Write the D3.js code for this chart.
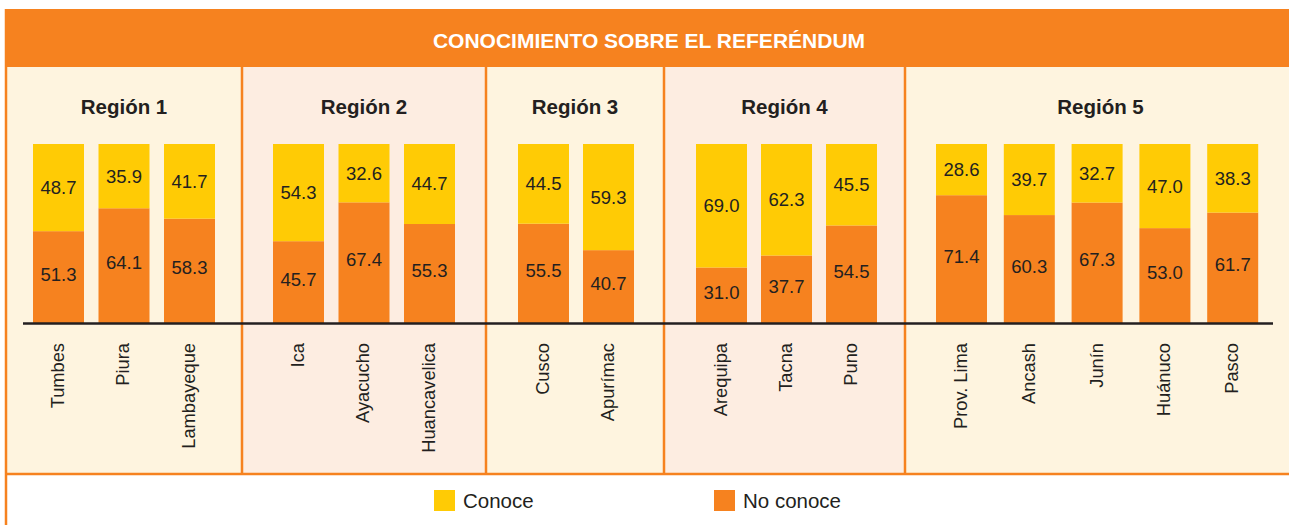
<!DOCTYPE html>
<html>
<head>
<meta charset="utf-8">
<script src="https://cdn.jsdelivr.net/npm/d3@7"></script>
<style>
  body { margin: 0; background: #fff; }
  svg text { font-family: "Liberation Sans", Arial, sans-serif; fill: #231f20; }
</style>
</head>
<body>
<div id="graphic"></div>
<script>
// data
const title = "CONOCIMIENTO SOBRE EL REFERÉNDUM";
const regions = ["Región 1", "Región 2", "Región 3", "Región 4", "Región 5"];
const categories = [
  ["Tumbes", "Piura", "Lambayeque"],
  ["Ica", "Ayacucho", "Huancavelica"],
  ["Cusco", "Apurímac"],
  ["Arequipa", "Tacna", "Puno"],
  ["Prov. Lima", "Ancash", "Junín", "Huánuco", "Pasco"]
];
const conoce = [
  [48.7, 35.9, 41.7],
  [54.3, 32.6, 44.7],
  [44.5, 59.3],
  [69.0, 62.3, 45.5],
  [28.6, 39.7, 32.7, 47.0, 38.3]
];
const noConoce = [
  [51.3, 64.1, 58.3],
  [45.7, 67.4, 55.3],
  [55.5, 40.7],
  [31.0, 37.7, 54.5],
  [71.4, 60.3, 67.3, 53.0, 61.7]
];
const legendLabels = ["Conoce", "No conoce"];

const colours = { conoce: "#ffcb05", noConoce: "#f6821f", line: "#f6821f" };
const panelFill = ["#fef4df", "#fdede1", "#fef4df", "#fdede1", "#fef4df"];

// layout
const width = 1289, height = 525;
const panelEdges = [6, 242, 486, 664, 905, 1296];
const barStart = [33, 273, 518, 696, 936];
const barStep = [65.5, 65.5, 65, 65, 67.8];
const barWidth = 51;
const panelTop = 67, panelBottom = 474;

const svg = d3.select("#graphic").append("svg")
  .attr("width", width).attr("height", height);

const y = d3.scaleLinear().domain([0, 100]).range([323, 144]);

// panels
regions.forEach((r, i) => {
  svg.append("rect")
    .attr("x", panelEdges[i]).attr("y", panelTop)
    .attr("width", panelEdges[i + 1] - panelEdges[i])
    .attr("height", panelBottom - panelTop)
    .attr("fill", panelFill[i]);
});

// title bar
svg.append("rect").attr("x", 5).attr("y", 9)
  .attr("width", 1291).attr("height", panelTop - 9)
  .attr("fill", colours.line);
svg.append("text")
  .attr("x", 649).attr("y", 41).attr("dy", "0.35em")
  .attr("text-anchor", "middle")
  .style("font-size", "21px").style("font-weight", "bold")
  .style("fill", "#fff")
  .text(title);

// panel borders
panelEdges.slice(1, -1).forEach(xp => {
  svg.append("line")
    .attr("x1", xp).attr("x2", xp)
    .attr("y1", panelTop).attr("y2", panelBottom)
    .attr("stroke", colours.line).attr("stroke-width", 2.5);
});
svg.append("line").attr("x1", 6).attr("x2", 6)
  .attr("y1", 9).attr("y2", height)
  .attr("stroke", colours.line).attr("stroke-width", 2.5);
svg.append("line").attr("x1", 5).attr("x2", width)
  .attr("y1", panelBottom).attr("y2", panelBottom)
  .attr("stroke", colours.line).attr("stroke-width", 2.5);

// bars per region
regions.forEach((r, i) => {
  const cats = categories[i];
  const x = d3.scaleBand()
    .domain(cats)
    .range([barStart[i], barStart[i] + barStep[i] * (cats.length - 1) + barWidth])
    .paddingInner((barStep[i] - barWidth) / barStep[i])
    .paddingOuter(0);

  const cx = (panelEdges[i] + panelEdges[i + 1]) / 2;
  svg.append("text")
    .attr("x", cx).attr("y", 107).attr("dy", "0.35em")
    .attr("text-anchor", "middle")
    .style("font-size", "20.5px").style("font-weight", "bold")
    .text(r);

  const g = svg.append("g");
  const rows = cats.map((c, j) => ({ cat: c, yes: conoce[i][j], no: noConoce[i][j] }));

  // no conoce (bottom)
  g.selectAll("rect.no").data(rows).join("rect")
    .attr("class", "no")
    .attr("x", d => x(d.cat)).attr("width", x.bandwidth())
    .attr("y", d => y(d.no)).attr("height", d => y(0) - y(d.no))
    .attr("fill", colours.noConoce);

  // conoce (top)
  g.selectAll("rect.yes").data(rows).join("rect")
    .attr("class", "yes")
    .attr("x", d => x(d.cat)).attr("width", x.bandwidth())
    .attr("y", d => y(d.no + d.yes)).attr("height", d => y(d.no) - y(d.no + d.yes))
    .attr("fill", colours.conoce);

  g.selectAll("text.yes").data(rows).join("text")
    .attr("x", d => x(d.cat) + x.bandwidth() / 2)
    .attr("y", d => (y(d.no) + y(d.no + d.yes)) / 2)
    .attr("dy", "0.35em").attr("text-anchor", "middle")
    .style("font-size", "18.5px")
    .text(d => d3.format(".1f")(d.yes));

  g.selectAll("text.no").data(rows).join("text")
    .attr("x", d => x(d.cat) + x.bandwidth() / 2)
    .attr("y", d => (y(0) + y(d.no)) / 2 - 3)
    .attr("dy", "0.35em").attr("text-anchor", "middle")
    .style("font-size", "18.5px")
    .text(d => d3.format(".1f")(d.no));

  // category labels
  g.selectAll("text.cat").data(rows).join("text")
    .attr("transform", d => "translate(" + (x(d.cat) + x.bandwidth() / 2 - 1) + ",343) rotate(-90)")
    .attr("dy", "0.35em").attr("text-anchor", "end")
    .style("font-size", "18.3px")
    .text(d => d.cat);
});

// baseline
svg.append("line")
  .attr("x1", 23).attr("x2", 1273)
  .attr("y1", y(0) + 0.5).attr("y2", y(0) + 0.5)
  .attr("stroke", "#231f20").attr("stroke-width", 2.5);

// legend
const legendX = [434, 714];
legendLabels.forEach((l, i) => {
  svg.append("rect")
    .attr("x", legendX[i]).attr("y", 490)
    .attr("width", 21).attr("height", 21)
    .attr("fill", i === 0 ? colours.conoce : colours.noConoce);
  svg.append("text")
    .attr("x", legendX[i] + 29).attr("y", 501).attr("dy", "0.35em")
    .style("font-size", "20.5px")
    .text(l);
});
</script>
</body>
</html>
